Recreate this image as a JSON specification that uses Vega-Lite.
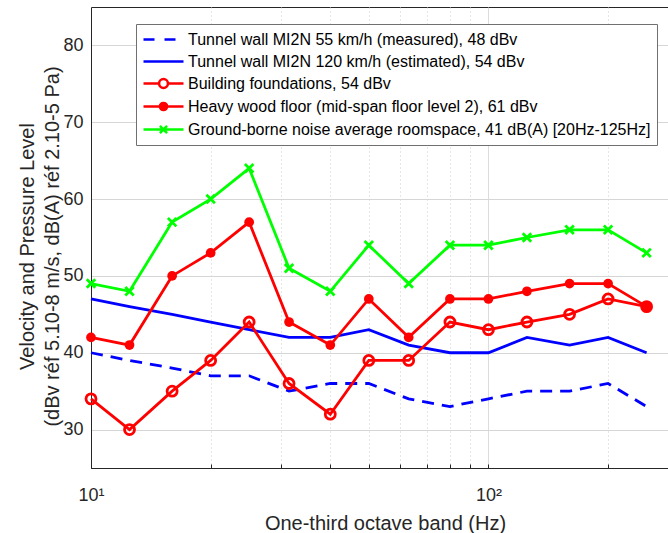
{
  "$schema": "https://vega.github.io/schema/vega-lite/v6.json",
  "width": 577,
  "height": 461,
  "autosize": "none",
  "padding": {"left": 91, "top": 7, "right": 0, "bottom": 65},
  "background": "white",
  "config": {
    "font": "Liberation Sans",
    "view": {"stroke": "#262626", "strokeWidth": 1}
  },
  "data": {
    "values": [
      {"f": 10, "s": "Tunnel wall MI2N 55 km/h (measured), 48 dBv", "v": 40},
      {"f": 12.5, "s": "Tunnel wall MI2N 55 km/h (measured), 48 dBv", "v": 39},
      {"f": 16, "s": "Tunnel wall MI2N 55 km/h (measured), 48 dBv", "v": 38},
      {"f": 20, "s": "Tunnel wall MI2N 55 km/h (measured), 48 dBv", "v": 37},
      {"f": 25, "s": "Tunnel wall MI2N 55 km/h (measured), 48 dBv", "v": 37},
      {"f": 31.5, "s": "Tunnel wall MI2N 55 km/h (measured), 48 dBv", "v": 35},
      {"f": 40, "s": "Tunnel wall MI2N 55 km/h (measured), 48 dBv", "v": 36},
      {"f": 50, "s": "Tunnel wall MI2N 55 km/h (measured), 48 dBv", "v": 36},
      {"f": 63, "s": "Tunnel wall MI2N 55 km/h (measured), 48 dBv", "v": 34},
      {"f": 80, "s": "Tunnel wall MI2N 55 km/h (measured), 48 dBv", "v": 33},
      {"f": 100, "s": "Tunnel wall MI2N 55 km/h (measured), 48 dBv", "v": 34},
      {"f": 125, "s": "Tunnel wall MI2N 55 km/h (measured), 48 dBv", "v": 35},
      {"f": 160, "s": "Tunnel wall MI2N 55 km/h (measured), 48 dBv", "v": 35},
      {"f": 200, "s": "Tunnel wall MI2N 55 km/h (measured), 48 dBv", "v": 36},
      {"f": 250, "s": "Tunnel wall MI2N 55 km/h (measured), 48 dBv", "v": 33},
      {"f": 10, "s": "Tunnel wall MI2N 120 km/h (estimated), 54 dBv", "v": 47},
      {"f": 12.5, "s": "Tunnel wall MI2N 120 km/h (estimated), 54 dBv", "v": 46},
      {"f": 16, "s": "Tunnel wall MI2N 120 km/h (estimated), 54 dBv", "v": 45},
      {"f": 20, "s": "Tunnel wall MI2N 120 km/h (estimated), 54 dBv", "v": 44},
      {"f": 25, "s": "Tunnel wall MI2N 120 km/h (estimated), 54 dBv", "v": 43},
      {"f": 31.5, "s": "Tunnel wall MI2N 120 km/h (estimated), 54 dBv", "v": 42},
      {"f": 40, "s": "Tunnel wall MI2N 120 km/h (estimated), 54 dBv", "v": 42},
      {"f": 50, "s": "Tunnel wall MI2N 120 km/h (estimated), 54 dBv", "v": 43},
      {"f": 63, "s": "Tunnel wall MI2N 120 km/h (estimated), 54 dBv", "v": 41},
      {"f": 80, "s": "Tunnel wall MI2N 120 km/h (estimated), 54 dBv", "v": 40},
      {"f": 100, "s": "Tunnel wall MI2N 120 km/h (estimated), 54 dBv", "v": 40},
      {"f": 125, "s": "Tunnel wall MI2N 120 km/h (estimated), 54 dBv", "v": 42},
      {"f": 160, "s": "Tunnel wall MI2N 120 km/h (estimated), 54 dBv", "v": 41},
      {"f": 200, "s": "Tunnel wall MI2N 120 km/h (estimated), 54 dBv", "v": 42},
      {"f": 250, "s": "Tunnel wall MI2N 120 km/h (estimated), 54 dBv", "v": 40},
      {"f": 10, "s": "Building foundations, 54 dBv", "v": 34},
      {"f": 12.5, "s": "Building foundations, 54 dBv", "v": 30},
      {"f": 16, "s": "Building foundations, 54 dBv", "v": 35},
      {"f": 20, "s": "Building foundations, 54 dBv", "v": 39},
      {"f": 25, "s": "Building foundations, 54 dBv", "v": 44},
      {"f": 31.5, "s": "Building foundations, 54 dBv", "v": 36},
      {"f": 40, "s": "Building foundations, 54 dBv", "v": 32},
      {"f": 50, "s": "Building foundations, 54 dBv", "v": 39},
      {"f": 63, "s": "Building foundations, 54 dBv", "v": 39},
      {"f": 80, "s": "Building foundations, 54 dBv", "v": 44},
      {"f": 100, "s": "Building foundations, 54 dBv", "v": 43},
      {"f": 125, "s": "Building foundations, 54 dBv", "v": 44},
      {"f": 160, "s": "Building foundations, 54 dBv", "v": 45},
      {"f": 200, "s": "Building foundations, 54 dBv", "v": 47},
      {"f": 250, "s": "Building foundations, 54 dBv", "v": 46},
      {"f": 10, "s": "Heavy wood floor (mid-span floor level 2), 61 dBv", "v": 42},
      {"f": 12.5, "s": "Heavy wood floor (mid-span floor level 2), 61 dBv", "v": 41},
      {"f": 16, "s": "Heavy wood floor (mid-span floor level 2), 61 dBv", "v": 50},
      {"f": 20, "s": "Heavy wood floor (mid-span floor level 2), 61 dBv", "v": 53},
      {"f": 25, "s": "Heavy wood floor (mid-span floor level 2), 61 dBv", "v": 57},
      {"f": 31.5, "s": "Heavy wood floor (mid-span floor level 2), 61 dBv", "v": 44},
      {"f": 40, "s": "Heavy wood floor (mid-span floor level 2), 61 dBv", "v": 41},
      {"f": 50, "s": "Heavy wood floor (mid-span floor level 2), 61 dBv", "v": 47},
      {"f": 63, "s": "Heavy wood floor (mid-span floor level 2), 61 dBv", "v": 42},
      {"f": 80, "s": "Heavy wood floor (mid-span floor level 2), 61 dBv", "v": 47},
      {"f": 100, "s": "Heavy wood floor (mid-span floor level 2), 61 dBv", "v": 47},
      {"f": 125, "s": "Heavy wood floor (mid-span floor level 2), 61 dBv", "v": 48},
      {"f": 160, "s": "Heavy wood floor (mid-span floor level 2), 61 dBv", "v": 49},
      {"f": 200, "s": "Heavy wood floor (mid-span floor level 2), 61 dBv", "v": 49},
      {"f": 250, "s": "Heavy wood floor (mid-span floor level 2), 61 dBv", "v": 46},
      {"f": 10, "s": "Ground-borne noise average roomspace, 41 dB(A) [20Hz-125Hz]", "v": 49},
      {"f": 12.5, "s": "Ground-borne noise average roomspace, 41 dB(A) [20Hz-125Hz]", "v": 48},
      {"f": 16, "s": "Ground-borne noise average roomspace, 41 dB(A) [20Hz-125Hz]", "v": 57},
      {"f": 20, "s": "Ground-borne noise average roomspace, 41 dB(A) [20Hz-125Hz]", "v": 60},
      {"f": 25, "s": "Ground-borne noise average roomspace, 41 dB(A) [20Hz-125Hz]", "v": 64},
      {"f": 31.5, "s": "Ground-borne noise average roomspace, 41 dB(A) [20Hz-125Hz]", "v": 51},
      {"f": 40, "s": "Ground-borne noise average roomspace, 41 dB(A) [20Hz-125Hz]", "v": 48},
      {"f": 50, "s": "Ground-borne noise average roomspace, 41 dB(A) [20Hz-125Hz]", "v": 54},
      {"f": 63, "s": "Ground-borne noise average roomspace, 41 dB(A) [20Hz-125Hz]", "v": 49},
      {"f": 80, "s": "Ground-borne noise average roomspace, 41 dB(A) [20Hz-125Hz]", "v": 54},
      {"f": 100, "s": "Ground-borne noise average roomspace, 41 dB(A) [20Hz-125Hz]", "v": 54},
      {"f": 125, "s": "Ground-borne noise average roomspace, 41 dB(A) [20Hz-125Hz]", "v": 55},
      {"f": 160, "s": "Ground-borne noise average roomspace, 41 dB(A) [20Hz-125Hz]", "v": 56},
      {"f": 200, "s": "Ground-borne noise average roomspace, 41 dB(A) [20Hz-125Hz]", "v": 56},
      {"f": 250, "s": "Ground-borne noise average roomspace, 41 dB(A) [20Hz-125Hz]", "v": 53}
    ]
  },
  "encoding": {
    "x": {
      "field": "f",
      "type": "quantitative",
      "scale": {"type": "log", "domain": [10, 283], "nice": false},
      "axis": {
        "values": [10, 20, 30, 40, 50, 60, 70, 80, 90, 100, 200],
        "labelExpr": "datum.value == 10 ? '10¹' : datum.value == 100 ? '10²' : ''",
        "labelFontSize": 18,
        "labelColor": "#262626",
        "labelPadding": 22,
        "labelFlush": false,
        "labelOverlap": false,
        "tickSize": -4,
        "tickColor": "#262626",
        "domainColor": "#262626",
        "gridColor": {"condition": {"test": "datum.value == 100", "value": "#dcdcdc"}, "value": "#cccccc"},
        "gridDash": {"condition": {"test": "datum.value == 100", "value": []}, "value": [1, 3]},
        "title": "One-third octave band (Hz)",
        "titleFontSize": 20,
        "titleFontWeight": "normal",
        "titleColor": "#262626",
        "titlePadding": 9,
        "titleX": 294
      }
    },
    "y": {
      "field": "v",
      "type": "quantitative",
      "scale": {"domain": [25, 85], "nice": false, "zero": false},
      "axis": {
        "values": [30, 40, 50, 60, 70, 80],
        "labelFontSize": 18,
        "labelColor": "#262626",
        "labelPadding": 8,
        "ticks": false,
        "domainColor": "#262626",
        "gridColor": "#d6d6d6",
        "title": ["Velocity and Pressure Level", "(dBv réf 5.10-8 m/s, dB(A) réf 2.10-5 Pa)"],
        "titleFontSize": 20,
        "titleFontWeight": "normal",
        "titleColor": "#262626",
        "titleLineHeight": 25,
        "titlePadding": 0,
        "titleY": 239
      }
    }
  },
  "layer": [
    {
      "mark": {"type": "point", "filled": false, "opacity": 0, "strokeWidth": 2.5},
      "encoding": {
        "color": {
          "field": "s",
          "type": "nominal",
          "scale": {
            "domain": [
              "Tunnel wall MI2N 55 km/h (measured), 48 dBv",
              "Tunnel wall MI2N 120 km/h (estimated), 54 dBv",
              "Building foundations, 54 dBv",
              "Heavy wood floor (mid-span floor level 2), 61 dBv",
              "Ground-borne noise average roomspace, 41 dB(A) [20Hz-125Hz]"
            ],
            "range": ["#0000ff", "#0000ff", "#ff0000", "#ff0000", "#00ff00"]
          },
          "legend": {
            "orient": "none", "legendX": 45, "legendY": 17, "title": null,
            "labelFontSize": 16, "labelColor": "#000000", "labelLimit": 0,
            "symbolSize": 256, "symbolStrokeWidth": 2.5, "symbolOpacity": 1,
            "symbolOffset": 12, "labelOffset": 15, "rowPadding": 4, "padding": 6,
            "strokeColor": "#707070", "fillColor": "#ffffff"
          }
        },
        "shape": {
          "field": "s",
          "type": "nominal",
          "scale": {
            "domain": [
              "Tunnel wall MI2N 55 km/h (measured), 48 dBv",
              "Tunnel wall MI2N 120 km/h (estimated), 54 dBv",
              "Building foundations, 54 dBv",
              "Heavy wood floor (mid-span floor level 2), 61 dBv",
              "Ground-borne noise average roomspace, 41 dB(A) [20Hz-125Hz]"
            ],
            "range": [
              "M-2.5,0H-1.125M0.125,0H1.5",
              "M-2.5,0H2.5",
              "M-2.5,0H-0.55M0.55,0H2.5M-0.55,0A0.55,0.55 0 1,1 0.55,0A0.55,0.55 0 1,1 -0.55,0",
              "M-2.5,0H2.5M-0.45,0A0.45,0.45 0 1,1 0.45,0A0.45,0.45 0 1,1 -0.45,0M-0.2,0A0.2,0.2 0 1,1 0.2,0A0.2,0.2 0 1,1 -0.2,0M-0.05,0A0.05,0.05 0 1,1 0.05,0A0.05,0.05 0 1,1 -0.05,0",
              "M-2.5,0H2.5M-0.45,-0.45L0.45,0.45M-0.45,0.45L0.45,-0.45"
            ]
          },
          "legend": {
            "orient": "none", "legendX": 45, "legendY": 17, "title": null,
            "labelFontSize": 16, "labelColor": "#000000", "labelLimit": 0,
            "symbolSize": 256, "symbolStrokeWidth": 2.5, "symbolOpacity": 1,
            "symbolOffset": 12, "labelOffset": 15, "rowPadding": 4, "padding": 6,
            "strokeColor": "#707070", "fillColor": "#ffffff"
          }
        }
      }
    },
    {
      "transform": [{"filter": "datum.s === 'Tunnel wall MI2N 55 km/h (measured), 48 dBv'"}],
      "mark": {"type": "line", "stroke": "#0000ff", "strokeWidth": 2.8, "strokeDash": [12, 8]}
    },
    {
      "transform": [{"filter": "datum.s === 'Tunnel wall MI2N 120 km/h (estimated), 54 dBv'"}],
      "mark": {"type": "line", "stroke": "#0000ff", "strokeWidth": 2.8}
    },
    {
      "transform": [{"filter": "datum.s === 'Building foundations, 54 dBv'"}],
      "mark": {"type": "line", "stroke": "#ff0000", "strokeWidth": 2.8}
    },
    {
      "transform": [{"filter": "datum.s === 'Building foundations, 54 dBv'"}],
      "mark": {"type": "point", "shape": "circle", "filled": false, "stroke": "#ff0000", "strokeWidth": 2.8, "size": 100, "opacity": 1}
    },
    {
      "transform": [{"filter": "datum.s === 'Heavy wood floor (mid-span floor level 2), 61 dBv'"}],
      "mark": {"type": "line", "stroke": "#ff0000", "strokeWidth": 2.8}
    },
    {
      "transform": [{"filter": "datum.s === 'Heavy wood floor (mid-span floor level 2), 61 dBv'"}],
      "mark": {"type": "point", "shape": "circle", "filled": true, "fill": "#ff0000", "size": 95, "opacity": 1}
    },
    {
      "transform": [{"filter": "datum.s === 'Ground-borne noise average roomspace, 41 dB(A) [20Hz-125Hz]'"}],
      "mark": {"type": "line", "stroke": "#00ff00", "strokeWidth": 2.8}
    },
    {
      "transform": [{"filter": "datum.s === 'Ground-borne noise average roomspace, 41 dB(A) [20Hz-125Hz]'"}],
      "mark": {"type": "point", "shape": "M-1,-1L1,1M-1,1L1,-1", "filled": false, "stroke": "#00ff00", "strokeWidth": 2.8, "size": 72, "opacity": 1}
    }
  ]
}
